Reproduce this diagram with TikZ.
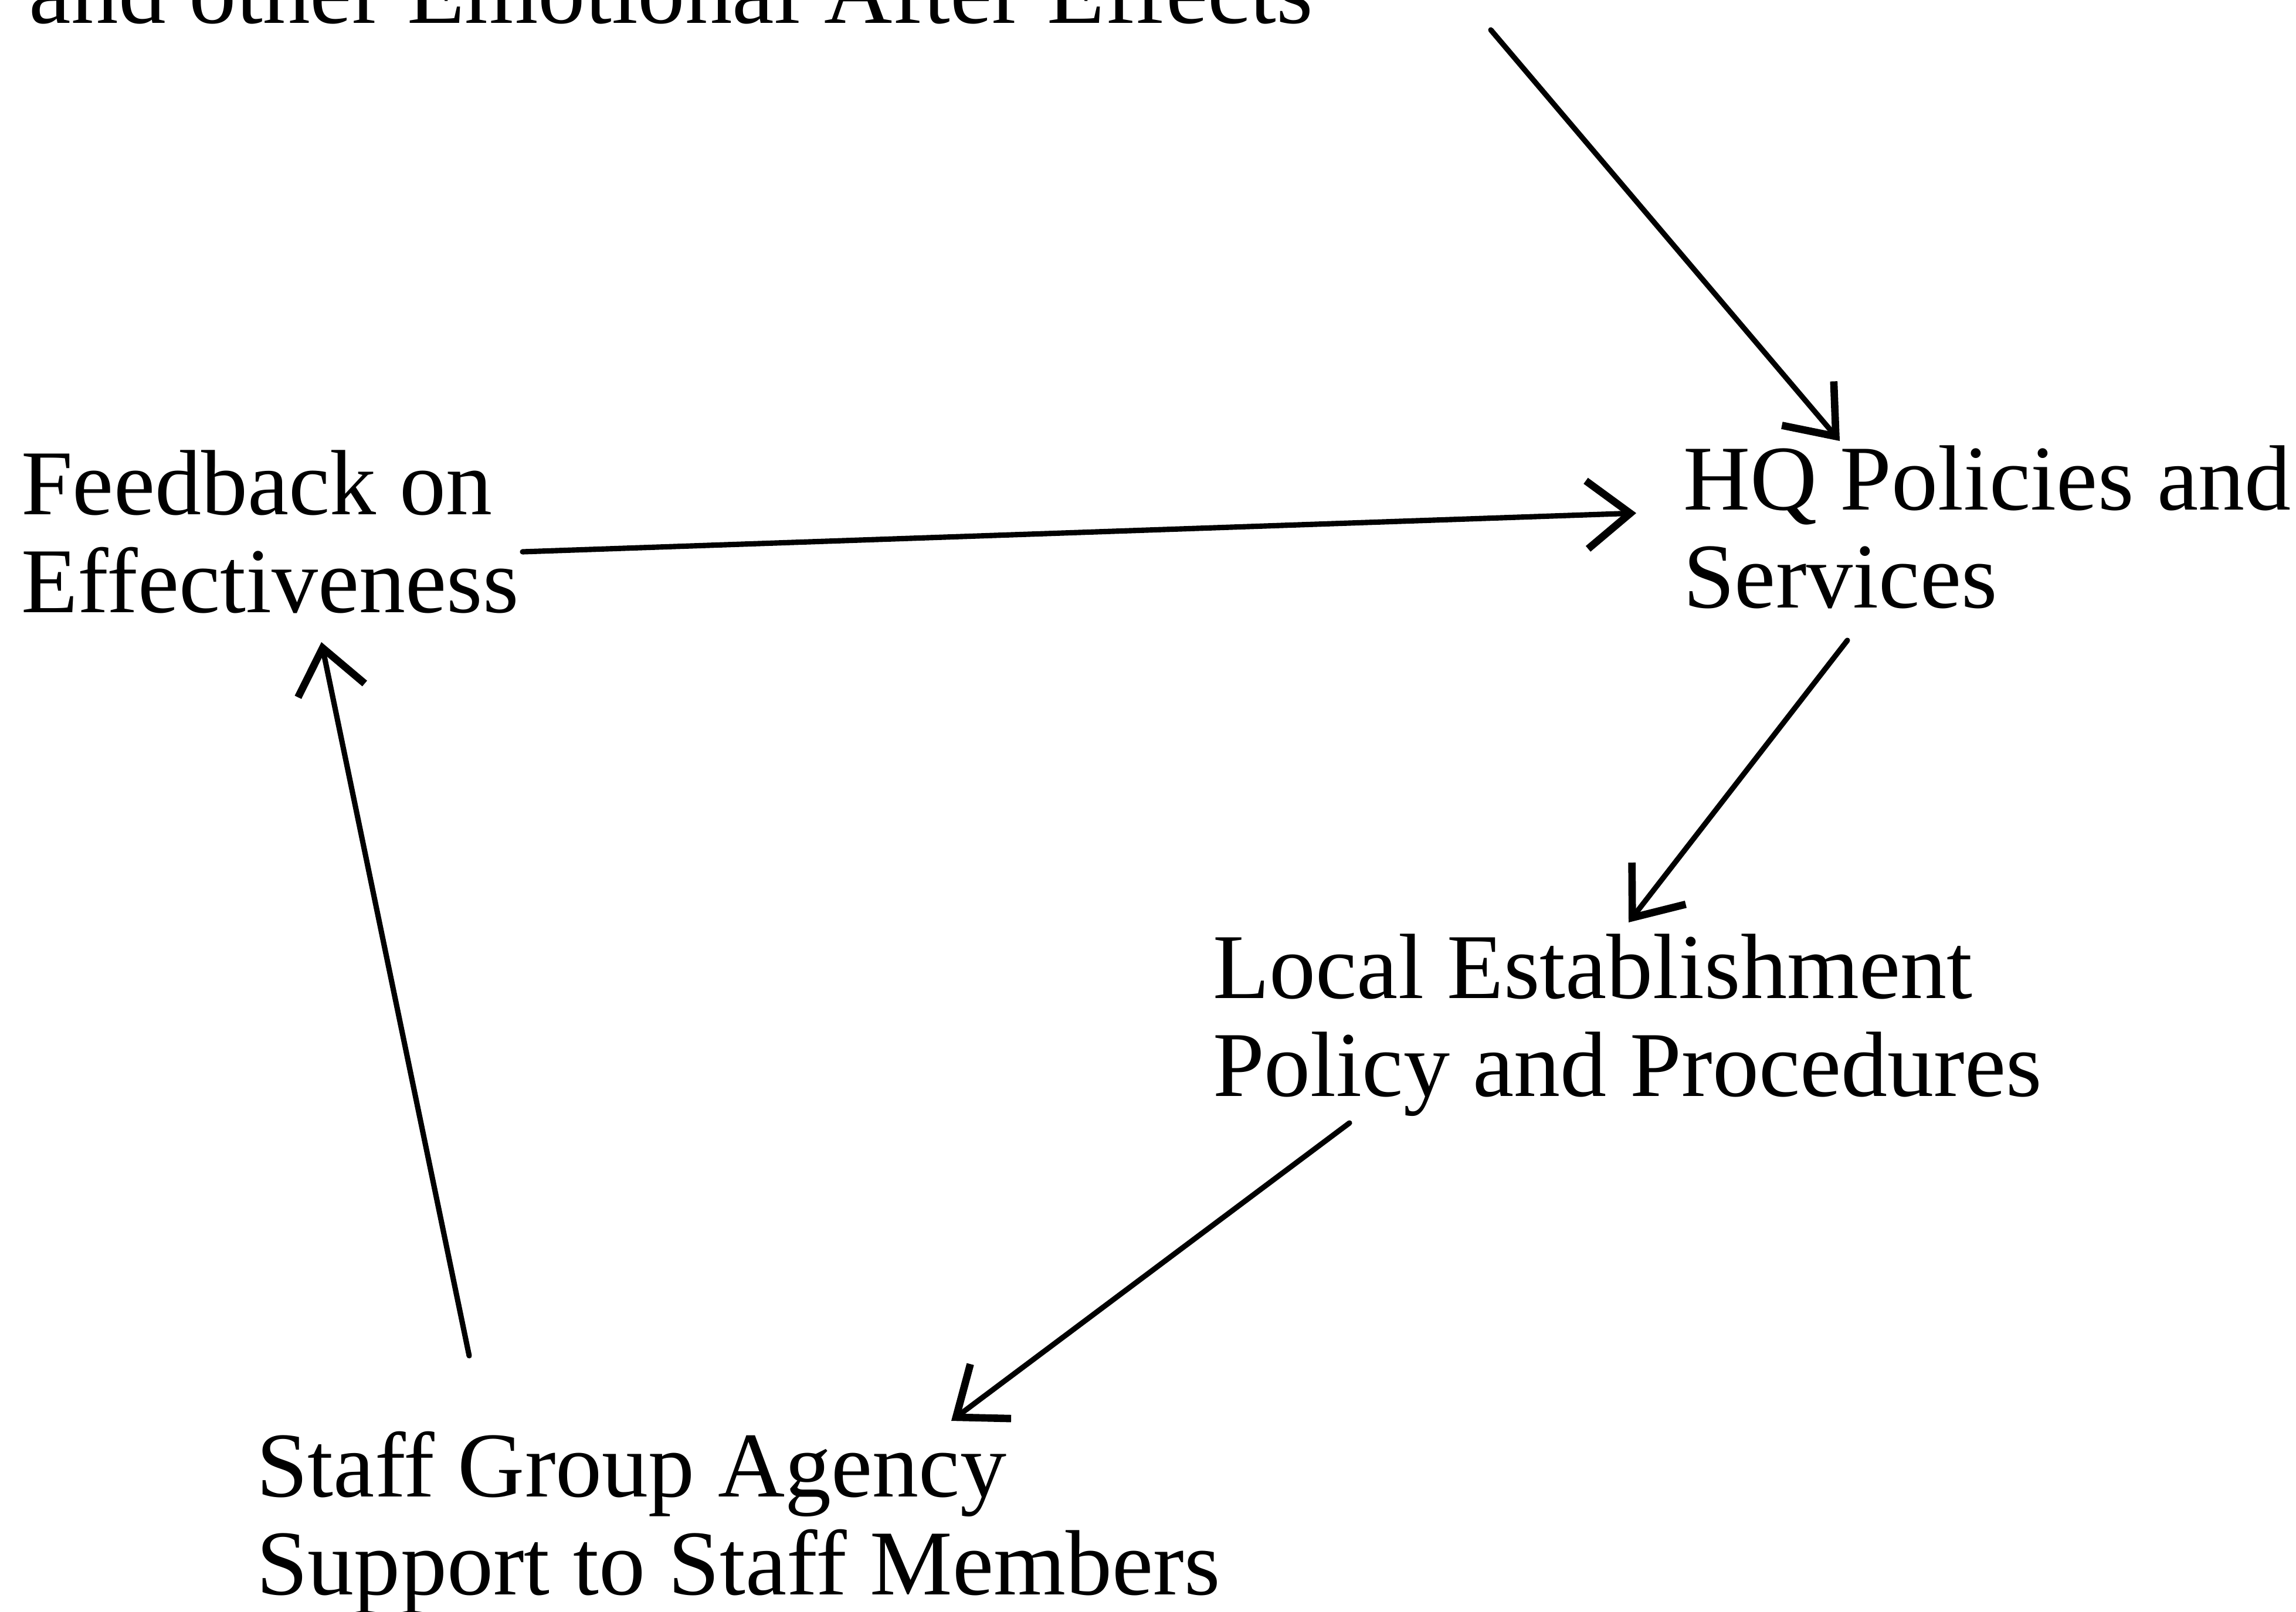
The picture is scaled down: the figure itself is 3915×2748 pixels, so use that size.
\documentclass[tikz,border=0pt]{standalone}
\usepackage{fontspec}
\setmainfont{Liberation Serif}
\usetikzlibrary{arrows.meta}
\newcommand{\twolines}[2]{\begin{tabular}[t]{@{}l@{}}#1\\#2\end{tabular}}
\begin{document}
\begin{tikzpicture}[x=0.01cm, y=-0.01cm,
  txt/.style={inner sep=0pt, outer sep=0pt, anchor=base west,
    font=\fontsize{44.96}{47.52}\selectfont},
  link/.style={line width=2.6pt, line cap=round,
    -{Straight Barb[length=21pt, width=33pt, line width=3.6pt]}}]
\useasboundingbox (0,0) rectangle (3915,2748);
\clip (0,0) rectangle (3915,2748);

% labels
\node[txt, font=\fontsize{45.8}{48}\selectfont] (top) at (50,39)
  {and other Emotional After Effects};
\node[txt] (hq) at (2870,869) {\twolines{HQ Policies and}{Services}};
\node[txt] (fb) at (36,877) {\twolines{Feedback on}{Effectiveness}};
\node[txt] (local) at (2068,1702)
  {\twolines{Local Establishment}{Policy and Procedures}};
\node[txt] (staff) at (437,2552)
  {\twolines{Staff Group Agency}{Support to Staff Members}};

% connectors
\draw[link] ([shift={(2492,12)}]top.base west) -- ([shift={(267,-117)}]hq.base west);
\draw[link] ([shift={(855,64)}]fb.base west) -- ([shift={(-80,6)}]hq.base west);
\draw[link] ([shift={(280,223)}]hq.base west) -- ([shift={(709,-129)}]local.base west);
\draw[link] ([shift={(233,213)}]local.base west) -- ([shift={(1185,-129)}]staff.base west);
\draw[link] ([shift={(363,-240)}]staff.base west) -- ([shift={(512,218)}]fb.base west);
\end{tikzpicture}
\end{document}
